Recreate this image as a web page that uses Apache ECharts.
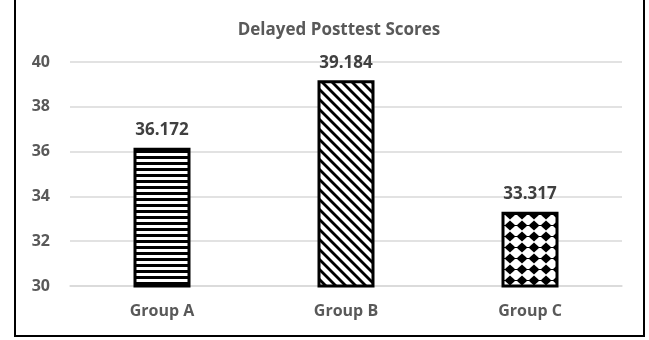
<!DOCTYPE html>
<html>
<head>
<meta charset="utf-8">
<script src="https://cdn.jsdelivr.net/npm/echarts@6/dist/echarts.min.js"></script>
<style>
html, body { margin: 0; padding: 0; background: #fff; }
#divChart { width: 649px; height: 340px; }
</style>
</head>
<body>
<div id="divChart"></div>
<script>
var groups = ['Group A', 'Group B', 'Group C'];
var scores = [36.172, 39.184, 33.317];
var yTicks = [30, 32, 34, 36, 38, 40];

// fill patterns like the excel ones
function stripePattern() {
    var c = document.createElement('canvas');
    c.width = 8; c.height = 6;
    var ctx = c.getContext('2d');
    ctx.fillStyle = '#fff';
    ctx.fillRect(0, 0, 8, 6);
    ctx.fillStyle = '#000';
    ctx.fillRect(0, 0, 8, 3);
    return c;
}

function diagPattern() {
    var c = document.createElement('canvas');
    c.width = 10; c.height = 10;
    var ctx = c.getContext('2d');
    ctx.fillStyle = '#fff';
    ctx.fillRect(0, 0, 10, 10);
    ctx.strokeStyle = '#000';
    ctx.lineWidth = 2.8;
    for (var k = -10; k <= 10; k += 10) {
        ctx.beginPath();
        ctx.moveTo(k - 2, -2);
        ctx.lineTo(k + 12, 12);
        ctx.stroke();
    }
    return c;
}

function diamondPattern() {
    var c = document.createElement('canvas');
    c.width = 12; c.height = 11;
    var ctx = c.getContext('2d');
    ctx.fillStyle = '#fff';
    ctx.fillRect(0, 0, 12, 11);
    ctx.fillStyle = '#000';
    ctx.beginPath();
    ctx.moveTo(6, 0.5);
    ctx.lineTo(11.5, 5.5);
    ctx.lineTo(6, 10.5);
    ctx.lineTo(0.5, 5.5);
    ctx.closePath();
    ctx.fill();
    ctx.fillRect(0, 5, 12, 1);
    return c;
}

var fills = [stripePattern(), diagPattern(), diamondPattern()];

var myChart = echarts.init(document.getElementById('divChart'));

var barData = [];
for (var i = 0; i < scores.length; i++) {
    barData.push({
        value: scores[i],
        itemStyle: { color: { image: fills[i], repeat: 'repeat' } }
    });
}

var option = {
    animation: false,
    title: {
        text: 'Delayed Posttest Scores',
        left: 334,
        textAlign: 'center',
        top: 17,
        textStyle: { fontFamily: 'Open Sans', fontWeight: 'bold', fontSize: 17, color: '#595959' }
    },
    graphic: [{
        type: 'rect',
        shape: { x: 15, y: -5, width: 629, height: 341 },
        style: { fill: 'none', stroke: '#000', lineWidth: 2 },
        silent: true
    }],
    grid: { left: 70, right: 27, top: 62, bottom: 54 },
    xAxis: {
        type: 'category',
        data: groups,
        axisLine: { lineStyle: { color: '#d9d9d9', width: 1.5 } },
        axisTick: { show: false },
        axisLabel: { margin: 17, fontFamily: 'Open Sans', fontWeight: 'bold', fontSize: 16, color: '#595959' }
    },
    yAxis: {
        type: 'value',
        min: yTicks[0],
        max: yTicks[yTicks.length - 1],
        interval: 2,
        axisLine: { show: false },
        axisTick: { show: false },
        splitLine: { lineStyle: { color: '#d9d9d9', width: 1.5 } },
        axisLabel: { margin: 20, fontFamily: 'Open Sans', fontWeight: 'bold', fontSize: 16, color: '#595959' }
    },
    series: [{
        type: 'bar',
        barWidth: 57,
        data: barData,
        itemStyle: { borderColor: '#000', borderWidth: 3 },
        label: {
            show: true,
            position: 'top',
            distance: 9,
            formatter: function (p) { return p.value.toFixed(3); },
            fontFamily: 'Open Sans',
            fontWeight: 'bold',
            fontSize: 17,
            color: '#404040'
        }
    }]
};

myChart.setOption(option);
</script>
</body>
</html>
